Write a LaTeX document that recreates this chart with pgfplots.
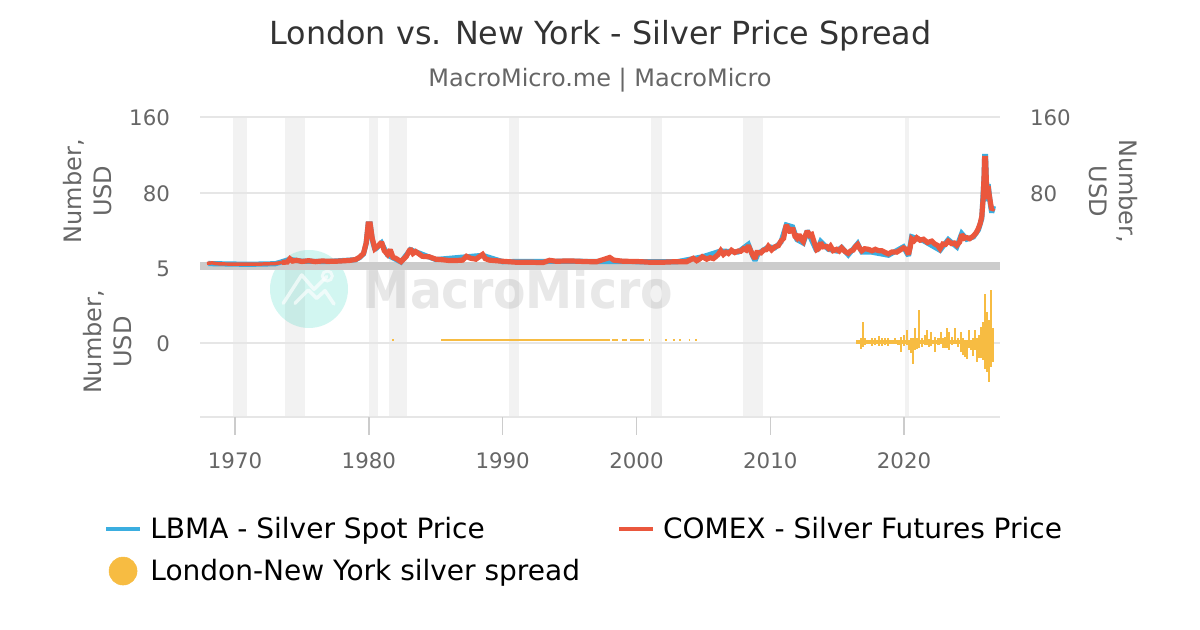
\documentclass[border=0pt]{standalone}
\usepackage{fontspec}
\setmainfont{DejaVu Sans}
\usepackage{pgfplots}
\pgfplotsset{compat=1.18}
\definecolor{cblue}{HTML}{3BAEE0}
\definecolor{cred}{HTML}{EA573D}
\definecolor{cgold}{HTML}{F7BC42}
\definecolor{ctick}{HTML}{666666}
\definecolor{cgrid}{HTML}{E6E6E6}
\definecolor{cband}{HTML}{F2F2F2}
\definecolor{cstrip}{HTML}{CCCCCC}
\definecolor{cteal}{HTML}{20D0B8}
\pgfplotstableread{
year value
1967.9 5.6
1968.3 6.1
1968.6 5.3
1969 5.0
1970 4.8
1971 4.7
1972 4.9
1973 5.4
1973.5 6.6
1973.9 7.0
1974.1 10.4
1974.3 8.0
1974.6 8.8
1975 7.6
1975.5 8.4
1976 7.4
1976.5 8.1
1977 7.8
1977.5 7.8
1978 8.2
1978.5 8.6
1979 9.6
1979.3 12
1979.6 16
1979.8 27
1979.95 47
1980.1 47
1980.25 32
1980.45 21
1980.7 24
1980.95 28
1981.15 19
1981.4 15
1981.6 20
1981.8 12
1982 11
1982.4 7.4
1982.8 13
1983.1 21
1983.3 16
1983.5 18
1984 13
1984.5 12.5
1985 10
1985.5 9.4
1986 8.6
1986.5 8.6
1987 9
1987.3 13
1987.6 11
1988 10
1988.5 15
1988.7 10.6
1989 9
1990 7.8
1991 6.8
1992 6.8
1993 6.4
1993.5 8.8
1994 7.8
1995 8.2
1996 7.6
1997 7.2
1998 11.8
1998.3 9
1999 7.8
2000 7.6
2001 6.8
2002 6.8
2003 7.4
2003.75 7.4
2004.25 10.9
2004.5 8.4
2004.7 10
2004.92 12.6
2005.25 10
2005.5 11.6
2005.75 10.6
2006.1 14.8
2006.3 19
2006.5 15
2006.7 17.4
2006.87 16
2007.1 19.4
2007.35 17
2007.6 18.6
2007.8 18.4
2008 21
2008.2 19.6
2008.36 24.4
2008.5 20
2008.7 14
2008.86 10.5
2009.0 17
2009.1 17
2009.3 16.6
2009.5 19.6
2009.7 20
2009.86 23.6
2010.1 19.8
2010.35 23
2010.6 24.2
2010.8 29
2011 32
2011.1 40
2011.2 46
2011.35 42
2011.5 38
2011.67 43
2011.85 34
2012 32
2012.17 36
2012.3 31
2012.47 28.4
2012.6 34
2012.77 39.6
2012.95 35
2013.1 36
2013.3 27
2013.47 20
2013.6 21
2013.77 27.4
2013.95 23
2014.2 23.4
2014.35 21.4
2014.5 23.8
2014.7 19
2014.96 20.4
2015.15 18.6
2015.33 21.8
2015.6 18
2015.83 16.2
2016 18.6
2016.2 19.6
2016.35 23
2016.53 25.4
2016.7 21
2016.84 18.8
2017.05 21
2017.34 20.4
2017.6 18.8
2017.85 20.4
2018.08 19
2018.35 18.8
2018.6 17
2018.83 15.6
2019.1 17.6
2019.45 17.4
2019.7 19.6
2019.95 21.8
2020.15 20.4
2020.33 15
2020.45 22
2020.57 31.4
2020.75 29.4
2020.95 32.6
2021.2 30
2021.45 31
2021.75 27.6
2022.07 29
2022.3 26
2022.5 24.6
2022.69 21
2022.9 26
2023.1 25.6
2023.3 29
2023.55 26.4
2023.75 27
2023.94 24.6
2024.15 28
2024.31 36
2024.5 32
2024.68 32.8
2024.9 31.6
2025.18 34.4
2025.4 38
2025.56 42.6
2025.7 48
2025.81 55
2025.9 72
2025.98 97
2026.02 116
2026.09 116
2026.15 92
2026.2 73
2026.28 87
2026.36 78
2026.45 70
2026.55 62
2026.68 64
}\comextable
\pgfplotstableread{
year value
1968.0 5.4
1969 5.1
1971 4.6
1973 5.2
1974.1 9.8
1975 7.8
1977 7.6
1979 9.4
1979.3 11.6
1979.6 15.6
1979.8 26.6
1979.95 47
1980.1 47
1980.25 31
1980.45 20
1980.95 27
1981.4 14.4
1982.4 7
1983.1 20
1985 9.6
1988.5 14
1990 7.4
1995 7.8
2000 7.4
2003 7.2
2004.92 12.4
2006.3 18.6
2007.6 17.6
2008.36 25.6
2008.7 13
2008.86 8.6
2009.1 16
2009.86 23
2010.35 22
2010.8 28
2011.2 46
2011.67 44
2012 30.6
2012.47 27
2012.77 40
2013.47 18.6
2013.77 28.6
2014.35 20.4
2014.96 18.6
2015.33 22.4
2015.83 14.6
2016.53 26.4
2016.84 17.6
2017.6 17.4
2018.83 14.2
2019.95 23
2020.33 13.6
2020.57 33.6
2021.45 29.4
2022.69 19.4
2023.3 30.6
2023.94 23
2024.31 37
2024.68 31
2025.18 33.4
2025.56 41
2025.81 53
2025.98 96
2026.02 118
2026.09 118
2026.2 71
2026.28 89
2026.45 68
2026.55 59
2026.68 66
}\lbmatable
\pgfplotstableread{
year value
1981.75 0.15
1981.85 0.15
1981.9 nan
1985.4 0.15
1998.0 0.15
1998.05 nan
1998.2 0.15
1998.6 0.15
1998.65 nan
1998.9 0.15
1999.3 0.15
1999.35 nan
1999.5 0.15
2000.6 0.15
2000.65 nan
2000.9 0.15
2001.0 0.15
2001.05 nan
2002.1 0.15
2002.3 0.15
2002.35 nan
2002.7 0.15
2002.9 0.15
2002.95 nan
2003.2 0.15
2003.3 0.15
2003.35 nan
2003.9 0.15
2004.0 0.15
2004.05 nan
2004.4 0.15
2004.5 0.15
2004.55 nan
}\flattable
\pgfplotstableread{
year value
2016.46 0.06
2026.65 0.06
}\basetable
\pgfplotstableread{
year value
2016.46 0.18
2016.46 -0.09
2016.76 0.29
2016.76 -0.45
2016.91 1.37
2016.91 -0.27
2017.09 0.29
2017.09 -0.16
2017.33 0.18
2017.33 -0.09
2017.58 0.29
2017.58 -0.23
2017.83 0.29
2017.83 -0.16
2018.13 0.45
2018.13 -0.23
2018.33 0.29
2018.33 -0.23
2018.58 0.29
2018.58 -0.16
2018.83 0.29
2018.83 -0.23
2019.08 0.14
2019.08 -0.09
2019.33 0.29
2019.33 -0.05
2019.58 0.14
2019.58 -0.16
2019.78 0.41
2019.78 -0.61
2020.00 0.52
2020.00 -0.23
2020.20 0.86
2020.20 -0.16
2020.37 0.18
2020.37 -0.50
2020.52 0.29
2020.52 -0.72
2020.67 0.29
2020.67 -1.44
2020.82 0.97
2020.82 -0.50
2020.97 0.29
2020.97 -0.40
2021.12 2.21
2021.12 -0.38
2021.32 0.29
2021.32 -0.32
2021.57 0.52
2021.57 -0.16
2021.72 0.86
2021.72 -0.16
2021.89 0.23
2021.89 -0.32
2022.02 0.70
2022.02 -0.23
2022.32 0.41
2022.32 -0.61
2022.57 0.29
2022.57 -0.16
2022.76 0.70
2022.76 -0.09
2022.94 0.29
2022.94 -0.38
2023.10 0.40
2023.10 -0.35
2023.21 0.97
2023.21 -0.38
2023.36 0.70
2023.36 -0.50
2023.56 0.41
2023.56 -0.16
2023.81 0.97
2023.81 -0.09
2024.06 0.29
2024.06 -0.32
2024.23 0.70
2024.23 -0.61
2024.43 0.29
2024.43 -0.83
2024.58 0.20
2024.58 -1.00
2024.71 0.07
2024.71 -1.13
2024.86 0.86
2024.86 -0.38
2025.00 0.20
2025.00 -0.50
2025.13 0.29
2025.13 -0.90
2025.28 0.86
2025.28 -0.50
2025.46 0.29
2025.46 -1.28
2025.63 0.52
2025.63 -1.06
2025.75 1.08
2025.75 -1.06
2025.90 1.42
2025.90 -1.17
2026.05 3.29
2026.05 -1.80
2026.20 2.09
2026.20 -1.96
2026.35 1.53
2026.35 -2.64
2026.50 3.56
2026.50 -1.62
2026.65 0.97
2026.65 -1.28
}\spreadtable
\newcommand{\bandrect}[2]{\fill[cband] (axis cs:#1,0) rectangle (axis cs:#2,1);}
\begin{document}
\begin{tikzpicture}
\useasboundingbox (0,0) rectangle (900pt,472.5pt);
% recession bands
\begin{axis}[at={(150pt,159.98pt)},anchor=south west,scale only axis,width=600pt,height=225pt,
  xmin=1967.38,xmax=2027.17,ymin=0,ymax=1,hide axis,clip=true]
\bandrect{1969.85}{1970.9}
\bandrect{1973.74}{1975.23}
\bandrect{1980.0}{1980.69}
\bandrect{1981.5}{1982.86}
\bandrect{1990.48}{1991.23}
\bandrect{2001.09}{2001.91}
\bandrect{2007.97}{2009.46}
\bandrect{2020.05}{2020.37}
\end{axis}
% watermark
\begin{scope}[shift={(0pt,472.5pt)},x=0.75pt,y=-0.75pt]
\fill[cteal,opacity=0.2] (309,289) circle (39);
\draw[white,opacity=.65,line width=2.6pt,line join=round,line cap=round] (283.3,303.3)--(301.7,275)--(314,289.3)--(326.7,276.7);
\draw[white,opacity=.65,line width=2.2pt] (327.3,276) circle (5);
\draw[white,opacity=.65,line width=2.6pt,line join=round,line cap=round] (295,303.3)--(308.3,290)--(316.7,298.3)--(325,290.7)--(334,304);
\node[opacity=0.09,text=black,font=\bfseries\fontsize{39pt}{39pt}\selectfont,xscale=0.91,anchor=center,inner sep=0pt] at (518,289) {MacroMicro};
\end{scope}
% lower pane
\begin{axis}[at={(150pt,159.98pt)},anchor=south west,scale only axis,width=600pt,height=111pt,
  xmin=1967.38,xmax=2027.17,ymin=-5,ymax=5,
  axis line style={draw=none},
  axis x line*=bottom,
  axis y line*=left,
  xtick={1970,1980,1990,2000,2010,2020},
  xticklabels={1970,1980,1990,2000,2010,2020},
  ytick={-5,0,5},yticklabels={,0,5},
  ymajorgrids,grid style={cgrid,line width=1.5pt},
  x tick style={cstrip,line width=1.1pt},
  tick align=outside,
  major tick length=13.5pt,
  y tick style={draw=none},
  /pgf/number format/assume math mode=true,
  xticklabel style={font=\fontsize{16pt}{18pt}\selectfont,text=ctick,yshift=-10pt},
  yticklabel style={font=\fontsize{16pt}{18pt}\selectfont,text=ctick,xshift=-5.5pt,yshift=-0.5pt},
  ylabel={Number,\\USD},
  y label style={at={(axis description cs:-0.1153,0.505)},anchor=center,align=center,text=ctick,font=\fontsize{18pt}{22.5pt}\selectfont},
  unbounded coords=jump,clip=true]
\draw[cgrid,line width=1.5pt] (axis cs:1967.38,-5) -- (axis cs:2027.17,-5);
\addplot[cgold,line width=1.5pt,no marks,forget plot] table[x=year,y=value] {\flattable};
\addplot[cgold,line width=2.6pt,no marks,forget plot] table[x=year,y=value] {\basetable};
\addplot[cgold,line width=1.6pt,no marks,ycomb,forget plot] table[x=year,y=value] {\spreadtable};
\end{axis}
% upper pane
\begin{axis}[at={(150pt,270.98pt)},anchor=south west,scale only axis,width=600pt,height=114pt,
  xmin=1967.38,xmax=2027.17,ymin=0,ymax=160,
  axis line style={draw=none},
  axis x line*=bottom,axis y line*=left,
  xtick=\empty,
  ytick={80,160},
  ymajorgrids,grid style={cgrid,line width=1.5pt},
  major tick length=13.5pt,
  tick align=outside,
  y tick style={draw=none},
  /pgf/number format/assume math mode=true,
  yticklabel style={font=\fontsize{16pt}{18pt}\selectfont,text=ctick,xshift=-5.5pt,yshift=-1pt},
  ylabel={Number,\\USD},
  y label style={at={(axis description cs:-0.1403,0.51)},anchor=center,align=center,text=ctick,font=\fontsize{18pt}{22.5pt}\selectfont},
  clip=false,
  legend columns=2,
  legend cell align=left,
  legend image code/.code={\draw[#1,line width=3pt] (0pt,0pt)--(25.5pt,0pt);},
  legend style={at={(-0.1195,-1.617)},anchor=north west,draw=none,fill=none,inner sep=0pt,outer sep=0pt,
    nodes={inner xsep=0pt},
    font=\fontsize{21pt}{25pt}\selectfont,text=black,row sep=10.25pt,
    /tikz/column 1/.style={column sep=6pt},/tikz/column 2/.style={column sep=27.75pt},/tikz/column 3/.style={column sep=6pt}},
  ]
\fill[cstrip] (axis cs:1967.38,-1.37) rectangle (axis cs:2027.17,7.05);
\addplot[cblue,line width=3.9pt,no marks,line join=miter,miter limit=2] table[x=year,y=value] {\lbmatable};
\addlegendentry{LBMA - Silver Spot Price}
\addplot[cred,line width=3.9pt,no marks,line join=miter,miter limit=2,restrict x to domain=1973.5:2027] table[x=year,y=value] {\comextable};
\addlegendentry{COMEX - Silver Futures Price}
\addlegendimage{cgold,legend image code/.code={\fill[cgold] (12.5pt,0pt) circle (10.5pt);}}
\addlegendentry{London-New York silver spread}
\addplot[cred,line width=2.6pt,no marks,restrict x to domain=1967:1973.6,forget plot] table[x=year,y=value] {\comextable};
\end{axis}
% right-hand scale of the upper pane
\begin{axis}[at={(150pt,270.98pt)},anchor=south west,scale only axis,width=600pt,height=114pt,
  xmin=1967.38,xmax=2027.17,ymin=0,ymax=160,
  axis line style={draw=none},
  axis x line=none,axis y line*=right,
  ytick={80,160},
  major tick length=7.5pt,
  y tick style={draw=none},
  /pgf/number format/assume math mode=true,
  yticklabel style={font=\fontsize{16pt}{18pt}\selectfont,text=ctick,xshift=19pt,yshift=-0.5pt,anchor=west},
  ylabel={Number,\\USD},
  y label style={at={(axis description cs:1.1413,0.51)},anchor=center,rotate=180,align=center,text=ctick,font=\fontsize{18pt}{22.5pt}\selectfont},
  ]
\addplot[draw=none,forget plot] coordinates {(2000,80)};
\end{axis}
% titles
\node[text=black!80,anchor=center,inner sep=0pt,font=\fontsize{23.85pt}{28pt}\selectfont] at (450.4pt,446pt) {London vs. New York - Silver Price Spread};
\node[text=ctick,anchor=center,inner sep=0pt,font=\fontsize{18pt}{22pt}\selectfont] at (450pt,412.5pt) {MacroMicro.me | MacroMicro};
\end{tikzpicture}
\end{document}
